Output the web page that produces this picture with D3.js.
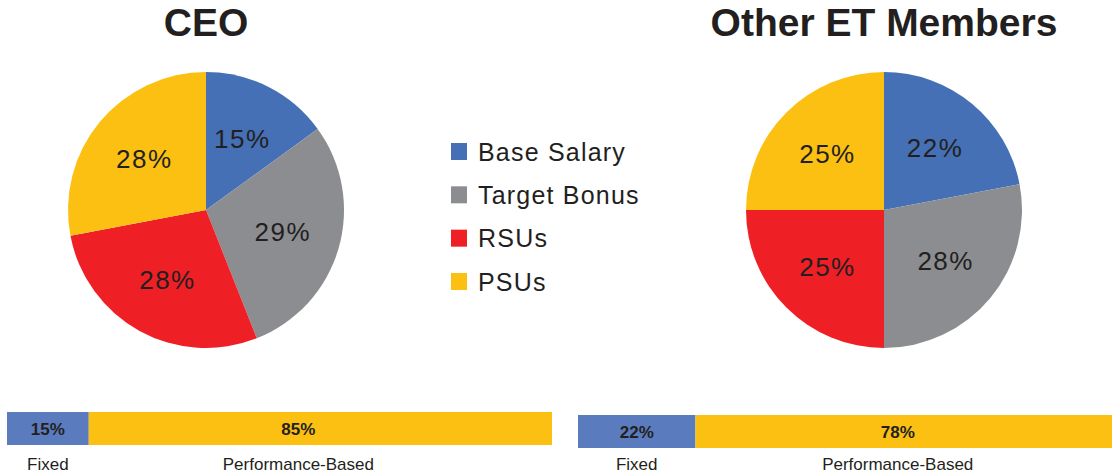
<!DOCTYPE html>
<html>
<head>
<meta charset="utf-8">
<script src="https://cdn.jsdelivr.net/npm/d3@7"></script>
<style>
  body { margin: 0; background: #fff; }
  text { font-family: "Liberation Sans", Arial, Helvetica, sans-serif; fill: #231f20; }
</style>
</head>
<body>
<div id="chart"></div>
<script>
/*** DATA ***/
const categories = ["Base Salary", "Target Bonus", "RSUs", "PSUs"];
const ceoMix = [15, 29, 28, 28];
const otherMix = [22, 28, 25, 25];
const barParts = ["Fixed", "Performance-Based"];
const ceoSplit = [15, 85];
const otherSplit = [22, 78];
const titles = ["CEO", "Other ET Members"];

const pieColors = ["#4570b6", "#8c8d91", "#ee1f25", "#fbc012"];
const barColors = ["#5a7bbd", "#fcc012"];

/*** SVG ***/
const width = 1112, height = 475;
const svg = d3.select("#chart").append("svg")
    .attr("width", width)
    .attr("height", height);

const color = d3.scaleOrdinal().domain(categories).range(pieColors);
const radius = 138;
const pie = d3.pie().sort(null).value(d => d.v);
const arc = d3.arc().innerRadius(0).outerRadius(radius);
const labelArc = d3.arc().innerRadius(80).outerRadius(80);

function drawPie(cx, cy, title, values) {
    const g = svg.append("g").attr("transform", "translate(" + [cx, cy] + ")");
    const data = values.map((v, i) => ({k: categories[i], v: v}));
    const arcs = pie(data);

    g.selectAll("path.slice")
        .data(arcs)
        .enter().append("path")
        .attr("class", "slice")
        .attr("fill", d => color(d.data.k))
        .attr("d", arc);

    g.selectAll("text.pct")
        .data(arcs)
        .enter().append("text")
        .attr("class", "pct")
        .attr("text-anchor", "middle")
        .attr("dy", "0.35em")
        .attr("font-size", 26)
        .attr("letter-spacing", 1.5)
        .attr("transform", d => "translate(" + labelArc.centroid(d) + ")")
        .text(d => d.data.v + "%");

    svg.append("text")
        .attr("x", cx)
        .attr("y", 36)
        .attr("text-anchor", "middle")
        .attr("font-size", 39)
        .attr("font-weight", "bold")
        .text(title);
}

drawPie(206, 210, titles[0], ceoMix);
drawPie(884, 210, titles[1], otherMix);

/*** LEGEND ***/
const legend = svg.append("g").attr("transform", "translate(451,143)");
const legY = d3.scalePoint().domain(categories).range([0, 130]);
const items = legend.selectAll("g")
    .data(categories)
    .enter().append("g")
    .attr("transform", d => "translate(0," + legY(d) + ")");
items.append("rect")
    .attr("width", 16)
    .attr("height", 17)
    .attr("fill", d => color(d));
items.append("text")
    .attr("x", 27)
    .attr("y", 17.5)
    .attr("font-size", 25)
    .attr("letter-spacing", 1.2)
    .text(d => d);

/*** BARS ***/
function drawBar(x0, x1, y0, h, values, shift) {
    const x = d3.scaleLinear().domain([0, d3.sum(values)]).range([x0, x1]);
    let acc = 0;
    const segs = values.map((v, i) => {
        const s = {start: acc, end: acc + v, v: v, name: barParts[i], c: barColors[i]};
        acc += v;
        return s;
    });
    const g = svg.append("g");
    g.selectAll("rect")
        .data(segs)
        .enter().append("rect")
        .attr("x", d => x(d.start))
        .attr("y", y0)
        .attr("width", d => x(d.end) - x(d.start))
        .attr("height", h)
        .attr("fill", d => d.c);

    const mid = (d, i) => (x(d.start) + x(d.end)) / 2 + (i > 0 ? shift : 0);

    g.selectAll("text.val")
        .data(segs)
        .enter().append("text")
        .attr("class", "val")
        .attr("x", mid)
        .attr("y", y0 + h / 2 + 6.5)
        .attr("text-anchor", "middle")
        .attr("font-size", 17)
        .attr("font-weight", "bold")
        .text(d => d.v + "%");

    g.selectAll("text.name")
        .data(segs)
        .enter().append("text")
        .attr("class", "name")
        .attr("x", mid)
        .attr("y", 470)
        .attr("text-anchor", "middle")
        .attr("font-size", 17)
        .text(d => d.name);
}

drawBar(7, 552, 412, 33, ceoSplit, -22);
drawBar(578, 1112, 415, 33, otherSplit, -6);
</script>
</body>
</html>
